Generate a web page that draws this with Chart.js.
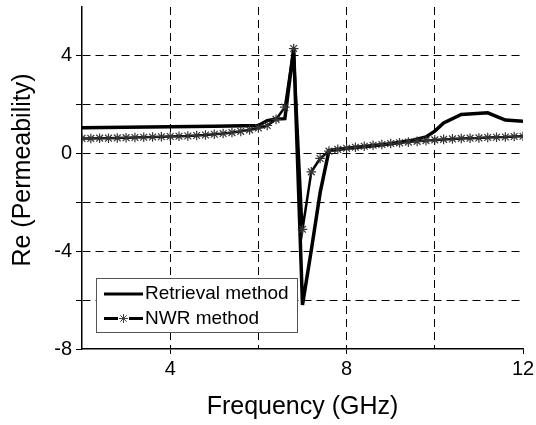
<!DOCTYPE html>
<html>
<head>
<meta charset="utf-8">
<script src="https://cdn.jsdelivr.net/npm/chart.js@4/dist/chart.umd.min.js"></script>
<style>
  html, body { margin: 0; padding: 0; background: #fff; }
  #c { display: block; }
</style>
</head>
<body>
<canvas id="c" width="536" height="425"></canvas>
<script>
// ---- data ----
const retrievalFreq = [2.0, 3.0, 4.0, 5.0, 6.0, 6.2, 6.4, 6.6, 6.8, 7.0, 7.2, 7.4, 7.6, 8.0, 8.5, 9.0, 9.5, 9.8, 10.0, 10.2, 10.6, 11.2, 11.6, 12.0];
const retrievalRe   = [1.06, 1.08, 1.10, 1.12, 1.15, 1.35, 1.42, 1.43, 4.30, -6.20, -3.95, -1.60, 0.12, 0.22, 0.30, 0.40, 0.55, 0.68, 0.92, 1.25, 1.60, 1.67, 1.37, 1.32];

const nwrFreq = [2.0, 2.2, 2.4, 2.6, 2.8, 3.0, 3.2, 3.4, 3.6, 3.8,
                 4.0, 4.2, 4.4, 4.6, 4.8, 5.0, 5.2, 5.4, 5.6, 5.8,
                 6.0, 6.2, 6.4, 6.6, 6.8, 7.0, 7.2, 7.4, 7.6, 7.8,
                 8.0, 8.2, 8.4, 8.6, 8.8, 9.0, 9.2, 9.4, 9.6, 9.8,
                 10.0, 10.2, 10.4, 10.6, 10.8, 11.0, 11.2, 11.4, 11.6, 11.8, 12.0];
const nwrRe   = [0.62, 0.62, 0.63, 0.63, 0.64, 0.65, 0.66, 0.67, 0.68, 0.69,
                 0.70, 0.71, 0.72, 0.74, 0.76, 0.79, 0.82, 0.86, 0.91, 0.97,
                 1.05, 1.15, 1.40, 1.90, 4.30, -3.10, -0.75, -0.20, 0.10, 0.17,
                 0.22, 0.26, 0.30, 0.34, 0.37, 0.41, 0.44, 0.47, 0.50, 0.53,
                 0.56, 0.58, 0.60, 0.62, 0.63, 0.64, 0.66, 0.67, 0.68, 0.70, 0.71];

const seriesNames = ['Retrieval method', 'NWR method'];
const xTickLabels = [4, 8, 12];
const yTickLabels = [-8, -4, 0, 4];
const xTitle = 'Frequency (GHz)';
const yTitle = 'Re (Permeability)';

const FONT = "'Liberation Sans', Arial, Helvetica, sans-serif";
const CLEAR = 'rgba(0,0,0,0)';

// ---- plugins: y-axis title and framed legend ----
const yTitlePlugin = {
  id: 'yTitlePlugin',
  afterDraw(chart) {
    const ctx = chart.ctx, a = chart.chartArea;
    ctx.save();
    ctx.translate(23, (a.top + a.bottom) / 2 - 8);
    ctx.rotate(-Math.PI / 2);
    ctx.font = '25px ' + FONT;
    ctx.fillStyle = '#000';
    ctx.textAlign = 'center';
    ctx.textBaseline = 'middle';
    ctx.fillText(yTitle, 0, 0);
    ctx.restore();
  }
};

function drawStar(ctx, x, y, r) {
  ctx.beginPath();
  ctx.moveTo(x, y - r); ctx.lineTo(x, y + r);
  ctx.moveTo(x - r, y); ctx.lineTo(x + r, y);
  const d = r * Math.SQRT1_2;
  ctx.moveTo(x - d, y - d); ctx.lineTo(x + d, y + d);
  ctx.moveTo(x - d, y + d); ctx.lineTo(x + d, y - d);
  ctx.stroke();
}

const legendPlugin = {
  id: 'legendPlugin',
  afterDatasetsDraw(chart) {
    const ctx = chart.ctx, a = chart.chartArea;
    const x0 = a.left + 14, y0 = a.bottom - 71, w = 201, h = 54;
    ctx.save();
    ctx.fillStyle = '#fff';
    ctx.fillRect(x0, y0, w, h);
    ctx.strokeStyle = '#555';
    ctx.lineWidth = 1;
    ctx.strokeRect(x0 + 0.5, y0 + 0.5, w, h);
    chart.data.datasets.forEach((ds, i) => {
      const cy = y0 + 16 + i * 24.5;
      ctx.strokeStyle = '#000';
      ctx.lineWidth = 3;
      ctx.beginPath();
      ctx.moveTo(x0 + 8, cy);
      ctx.lineTo(x0 + 47, cy);
      ctx.stroke();
      if (ds.pointStyle === 'star') {
        ctx.strokeStyle = '#444';
        ctx.lineWidth = 1;
        ctx.fillStyle = '#fff';
        ctx.fillRect(x0 + 22, cy - 5, 11, 10);
        drawStar(ctx, x0 + 27.5, cy, 4.5);
      }
      ctx.fillStyle = '#000';
      ctx.font = '19px ' + FONT;
      ctx.textAlign = 'left';
      ctx.textBaseline = 'alphabetic';
      ctx.fillText(ds.label, x0 + 49, cy + 5);
    });
    ctx.restore();
  }
};

const toPoints = (xs, ys) => xs.map((x, i) => ({ x: x, y: ys[i] }));

new Chart(document.getElementById('c'), {
  type: 'scatter',
  data: {
    datasets: [
      {
        label: seriesNames[0],
        data: toPoints(retrievalFreq, retrievalRe),
        showLine: true,
        borderColor: '#000',
        borderWidth: 3.5,
        pointRadius: 0,
        pointHoverRadius: 0,
        tension: 0,
        order: 1
      },
      {
        label: seriesNames[1],
        data: toPoints(nwrFreq, nwrRe),
        showLine: true,
        borderColor: '#000',
        borderWidth: 2.5,
        pointStyle: 'star',
        pointRadius: 4.8,
        pointBorderWidth: 1.2,
        pointBorderColor: '#333',
        pointBackgroundColor: CLEAR,
        tension: 0,
        order: 0
      }
    ]
  },
  options: {
    responsive: false,
    animation: false,
    events: [],
    layout: { padding: { left: 0, right: 13, top: 7, bottom: 0 } },
    plugins: {
      legend: { display: false },
      tooltip: { enabled: false }
    },
    scales: {
      x: {
        type: 'linear',
        min: 2,
        max: 12,
        afterFit: (s) => { s.height = 76; s.paddingLeft = 0; s.paddingRight = 0; },
        ticks: {
          stepSize: 2,
          autoSkip: false,
          maxRotation: 0,
          padding: 3,
          color: '#000',
          font: { family: FONT, size: 20 },
          callback: (v) => xTickLabels.includes(v) ? String(v) : ''
        },
        grid: {
          color: (c) => (c.tick && (c.tick.value === 2 || c.tick.value === 12)) ? CLEAR : '#000',
          lineWidth: 1,
          drawTicks: true,
          tickLength: 5,
          tickColor: (c) => (c.tick && xTickLabels.includes(c.tick.value)) ? '#000' : CLEAR
        },
        border: { display: true, color: '#000', width: 1.5, dash: [8, 5] },
        title: {
          display: true,
          text: xTitle,
          color: '#000',
          font: { family: FONT, size: 25 },
          padding: { top: 0, bottom: 3 }
        }
      },
      y: {
        type: 'linear',
        min: -8,
        max: 6,
        afterFit: (s) => { s.width = 82; s.paddingTop = 0; s.paddingBottom = 0; },
        ticks: {
          stepSize: 2,
          autoSkip: false,
          padding: 4,
          color: '#000',
          font: { family: FONT, size: 20 },
          callback: (v) => yTickLabels.includes(v) ? String(v) : ''
        },
        grid: {
          color: (c) => (c.tick && (c.tick.value === 6 || c.tick.value === -8)) ? CLEAR : '#000',
          lineWidth: 1,
          drawTicks: true,
          tickLength: 6,
          tickColor: (c) => (c.tick && c.tick.value === 6) ? CLEAR : '#000'
        },
        border: { display: true, color: '#000', width: 1.5, dash: [8, 5] },
        title: { display: false }
      }
    }
  },
  plugins: [yTitlePlugin, legendPlugin]
});
</script>
</body>
</html>
